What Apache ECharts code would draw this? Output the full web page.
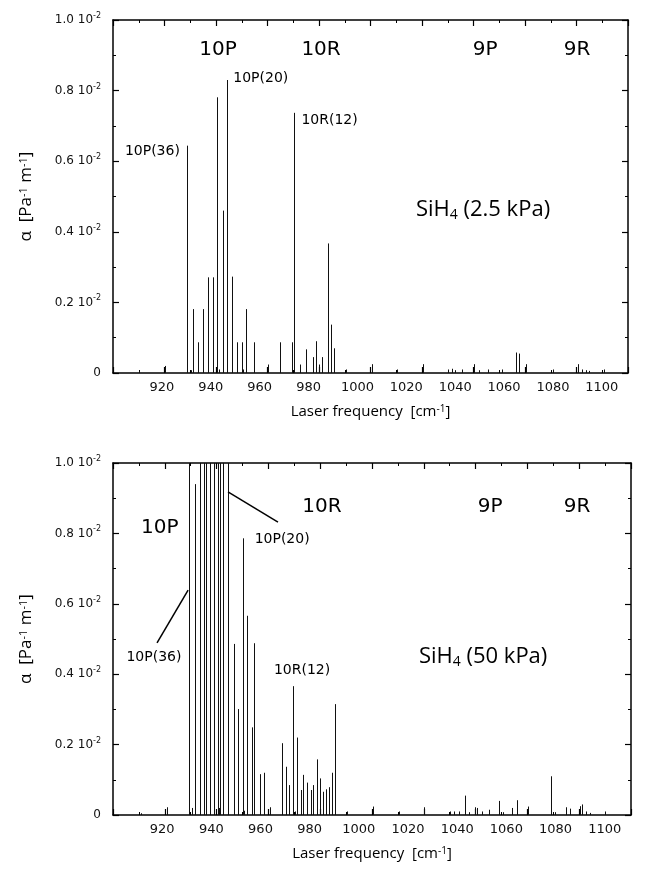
<!DOCTYPE html>
<html>
<head>
<meta charset="utf-8">
<script src="https://cdn.jsdelivr.net/npm/echarts@6/dist/echarts.min.js"></script>
<style>html,body{margin:0;padding:0;background:#fff;}#c{width:649px;height:872px;}</style>
</head>
<body>
<div id="c"></div>
<script>
// ---- data (alpha in units of 10^-2 Pa^-1 m^-1) ----
const freqTop = [910.2,920.2,928.9,930.2,931.2,933.1,935.1,937.0,939.0,940.4,941.0,942.6,944.1,946.3,948.0,950.0,950.6,951.7,954.8,960.3,965.0,969.5,970.4,972.6,975.1,977.7,978.7,980.1,981.2,983.5,984.5,985.8,990.4,1000.5,1010.4,1020.5,1030.2,1031.5,1033.0,1035.5,1040.2,1042.0,1045.5,1050.9,1056.4,1057.8,1060.4,1070.8,1080.7,1082.0,1083.5,1085.0,1090.7];
const alphaTop = [0.006,0.02,0.644,0.008,0.181,0.087,0.181,0.271,0.271,0.781,0.01,0.46,0.83,0.273,0.087,0.087,0.01,0.181,0.087,0.024,0.087,0.087,0.737,0.024,0.067,0.045,0.09,0.024,0.045,0.367,0.137,0.07,0.01,0.025,0.01,0.025,0.01,0.012,0.008,0.01,0.025,0.008,0.01,0.01,0.058,0.055,0.025,0.01,0.025,0.01,0.008,0.006,0.01];
const freqBottom = [910.8,920.7,929.3,930.4,931.5,933.5,935.1,936.1,937.4,939.0,940.5,941.0,941.3,942.4,944.5,946.6,948.4,950.0,950.5,951.6,953.5,954.6,956.8,958.2,960.6,965.1,966.7,968.1,969.6,970.3,970.9,972.7,973.5,974.8,976.3,977.3,978.9,979.9,981.2,982.2,983.3,984.7,985.7,990.2,1000.3,1010.4,1020.1,1030.1,1031.5,1033.5,1035.9,1037.5,1039.7,1040.5,1042.3,1045.3,1048.9,1050.5,1054.2,1055.9,1060.4,1069.0,1070.5,1074.9,1076.4,1080.3,1080.9,1082.5,1084.0,1089.9];
const alphaBottom = [0.005,0.022,1.0,0.02,0.94,1.0,1.0,1.0,1.0,1.0,1.0,0.02,1.0,1.0,1.0,0.486,0.301,0.786,0.012,0.566,0.249,0.488,0.116,0.12,0.022,0.204,0.137,0.085,0.366,0.01,0.22,0.071,0.114,0.092,0.071,0.085,0.158,0.104,0.066,0.073,0.079,0.12,0.315,0.01,0.024,0.01,0.022,0.01,0.01,0.01,0.055,0.008,0.022,0.02,0.01,0.015,0.04,0.008,0.02,0.042,0.024,0.11,0.008,0.022,0.018,0.025,0.03,0.01,0.006,0.01];
const xTickLabels = [920,940,960,980,1000,1020,1040,1060,1080,1100];
const yTickValues = [0,0.2,0.4,0.6,0.8,1.0];

const chart = echarts.init(document.getElementById('c'), null, {renderer:'canvas'});
const TXT = '#000';
const sansT = 'DejaVu Sans';
const sansH = 'Open Sans';

function zip(a,b){ return a.map((v,i)=>[v,b[i]]); }

function frameX(gi, pos){
  return {
    type:'value', gridIndex:gi, position:pos, min:900, max:1100, interval:20,
    axisLine:{show:true, onZero:false, lineStyle:{color:'#000', width:1.5}},
    axisTick:{show:true, inside:true, length:6, lineStyle:{color:'#000', width:1.2}},
    minorTick:{show:true, splitNumber:2, length:3, lineStyle:{color:'#000', width:1}},
    axisLabel:{show:false}, splitLine:{show:false}
  };
}
function labelX(gi){
  return {
    type:'value', gridIndex:gi, position:'bottom', min:900, max:1110.7, interval:20,
    axisLine:{show:false}, axisTick:{show:false}, splitLine:{show:false},
    axisLabel:{show:true, margin:8, color:'#111', fontFamily:sansT, fontSize:13,
      formatter:v=> xTickLabels.indexOf(Math.round(v))>=0 && Math.abs(v-Math.round(v))<1e-6 ? String(Math.round(v)) : ''},
    name:'Laser frequency  [cm{s|-1}]', nameLocation:'middle', nameGap:31,
    nameTextStyle:{color:TXT, fontFamily:sansH, fontSize:15,
      rich:{s:{fontSize:10, fontFamily:sansH, verticalAlign:'top', color:TXT}}}
  };
}
function frameY(gi, pos, withLabels){
  const o = {
    type:'value', gridIndex:gi, position:pos, min:0, max:1.0, interval:0.2,
    axisLine:{show:true, onZero:false, lineStyle:{color:'#000', width:1.5}},
    axisTick:{show:true, inside:true, length:6, lineStyle:{color:'#000', width:1.2}},
    minorTick:{show:true, splitNumber:2, length:3, lineStyle:{color:'#000', width:1}},
    splitLine:{show:false},
    axisLabel:{show:false}
  };
  if(withLabels){
    o.axisLabel = {show:true, margin:12, color:'#111', fontFamily:sansT, fontSize:12,
      formatter:v=> Math.abs(v)<1e-9 ? '0' : '{n|'+v.toFixed(1)+' 10}{s|-2}',
      rich:{n:{fontSize:12, fontFamily:sansT, color:'#111', lineHeight:16},
            s:{fontSize:8, fontFamily:sansT, color:'#111', verticalAlign:'top', lineHeight:16}}};
    o.name = '\u03b1  [Pa{s|-1} m{s|-1}]';
    o.nameLocation = 'middle';
    o.nameGap = 78;
    o.nameRotate = 90;
    o.nameTextStyle = {color:TXT, fontFamily:sansH, fontSize:17,
      rich:{s:{fontSize:11, fontFamily:sansH, verticalAlign:'top', color:TXT}}};
  }
  return o;
}

function lineSeries(xi, yi, data){
  return {
    type:'custom', xAxisIndex:xi, yAxisIndex:yi, clip:true, silent:true,
    data:data,
    renderItem:function(params, api){
      const x = api.value(0), y = api.value(1);
      const p0 = api.coord([x,0]); const p1 = api.coord([x,y]);
      const px = Math.round(p0[0]) + 0.5;
      return {type:'line', shape:{x1:px, y1:p0[1], x2:px, y2:p1[1]},
              style:{stroke:'#111', lineWidth:1}};
    }
  };
}

function annot(xi, yi, items){
  return {
    type:'scatter', xAxisIndex:xi, yAxisIndex:yi, symbolSize:0, silent:true,
    itemStyle:{opacity:1},
    data: items.map(it=>({value:[it[0],it[1]],
      label:{show:true, position:'inside', formatter:it[2], color:TXT, opacity:1,
        fontFamily:it[4]||sansT, fontSize:it[3],
        rich:{b:{fontSize:Math.round(it[3]*0.65), fontFamily:it[4]||sansT, color:TXT, padding:[11,0,0,0]}}}}))
  };
}

const option = {
  backgroundColor:'#fff',
  animation:false,
  grid:[
    {left:113, top:20, width:515, height:353},
    {left:113, top:463, width:518, height:352}
  ],
  xAxis:[ frameX(0,'bottom'), frameX(0,'top'), labelX(0),
          frameX(1,'bottom'), frameX(1,'top'), labelX(1) ],
  yAxis:[ frameY(0,'left',true), frameY(0,'right',false),
          frameY(1,'left',true), frameY(1,'right',false) ],
  series:[
    lineSeries(0,0, zip(freqTop, alphaTop)),
    lineSeries(3,2, zip(freqBottom, alphaBottom)),
    annot(0,0,[
      [940.8,0.915,'10P',20],[980.8,0.915,'10R',20],[1044.5,0.915,'9P',20],[1080.2,0.915,'9R',20],
      [957.4,0.836,'10P(20)',14],[915.3,0.629,'10P(36)',14],[984.1,0.717,'10R(12)',14],
      [1043.7,0.462,'SiH{b|4} (2.5 kPa)',22,sansH]
    ]),
    annot(3,2,[
      [918.1,0.815,'10P',20],[980.7,0.875,'10R',20],[1045.6,0.875,'9P',20],[1079.2,0.875,'9R',20],
      [965.3,0.784,'10P(20)',14],[915.8,0.449,'10P(36)',14],[973.0,0.412,'10R(12)',14],
      [1042.9,0.45,'SiH{b|4} (50 kPa)',22,sansH]
    ]),
    {
      type:'line', xAxisIndex:3, yAxisIndex:2, silent:true, data:[], symbol:'none',
      markLine:{silent:true, symbol:'none', animation:false, label:{show:false},
        lineStyle:{color:'#000', width:1.5, type:'solid', opacity:1},
        data:[
          [{coord:[944.4,0.918]},{coord:[963.7,0.832]}],
          [{coord:[917.0,0.489]},{coord:[929.0,0.639]}]
        ]}
    }
  ]
};
chart.setOption(option);
</script>
</body>
</html>
